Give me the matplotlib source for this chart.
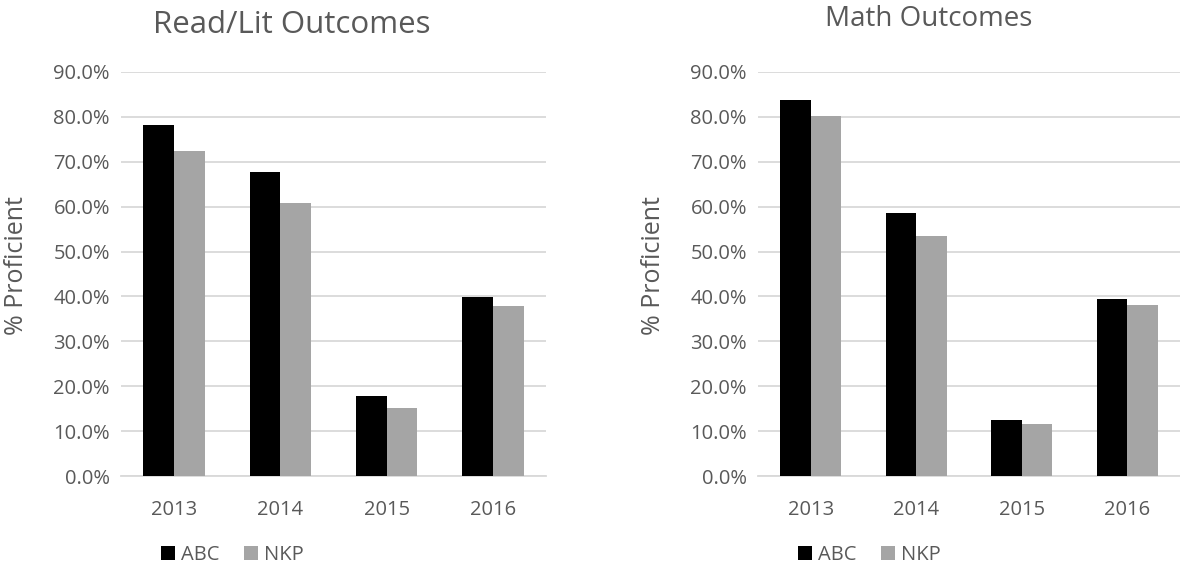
import matplotlib
matplotlib.use("Agg")
import matplotlib.pyplot as plt
import numpy as np
from matplotlib.ticker import FuncFormatter, MultipleLocator

years = ["2013", "2014", "2015", "2016"]
read_abc = [78.3, 67.7, 17.9, 39.9]
read_nkp = [72.3, 60.8, 15.2, 37.9]
math_abc = [83.7, 58.5, 12.4, 39.4]
math_nkp = [80.2, 53.4, 11.5, 38.0]
series_names = ["ABC", "NKP"]
titles = ["Read/Lit Outcomes", "Math Outcomes"]
ylabel = "% Proficient"

plt.rcParams['font.family'] = ['Open Sans', 'DejaVu Sans']
TXT = "#595959"
GRID = "#D9D9D9"
C_ABC = "#000000"
C_NKP = "#A5A5A5"

W, H = 1180, 571
fig = plt.figure(figsize=(W / 100, H / 100), dpi=100)

def px_axes(x0, x1, ytop, ybot):
    return fig.add_axes([x0 / W, (H - ybot) / H, (x1 - x0) / W, (ybot - ytop) / H])

axes = [px_axes(121, 546, 72, 476), px_axes(758, 1180, 72, 476)]
data = [(read_abc, read_nkp), (math_abc, math_nkp)]
title_pos = [(292, 25), (929, 19)]
title_size = [22.5, 20]
ylabel_x = [17, 653]
legend_x = [161, 798]

x = np.arange(len(years))
bw = 0.29
for ax, (a, n), ttl, tp, ts, ylx, lx in zip(axes, data, titles, title_pos, title_size, ylabel_x, legend_x):
    b1 = ax.bar(x - bw / 2, a, width=bw, color=C_ABC, zorder=3, label=series_names[0])
    b2 = ax.bar(x + bw / 2, n, width=bw, color=C_NKP, zorder=3, label=series_names[1])
    ax.set_xlim(-0.5, 3.5)
    ax.set_ylim(0, 90)
    ax.yaxis.set_major_locator(MultipleLocator(10))
    ax.yaxis.set_major_formatter(FuncFormatter(lambda v, p: f"{v:.1f}%"))
    ax.set_xticks(x)
    ax.set_xticklabels(years)
    ax.grid(axis="y", color=GRID, linewidth=1.3, zorder=0)
    for s in ["top", "right", "left"]:
        ax.spines[s].set_visible(False)
    ax.spines["bottom"].set_color(GRID)
    ax.spines["bottom"].set_linewidth(1.3)
    ax.tick_params(axis="both", length=0, labelsize=14.5, labelcolor=TXT)
    ax.tick_params(axis="y", pad=8)
    ax.tick_params(axis="x", pad=17)
    fig.text(tp[0] / W, (H - tp[1]) / H, ttl, ha="center", va="center", fontsize=ts, color=TXT)
    fig.text(ylx / W, (H - 266) / H, ylabel, ha="center", va="center", rotation=90, fontsize=18, color=TXT)
    fig.legend(handles=[b1, b2], labels=series_names, loc="center left",
               bbox_to_anchor=(lx / W, (H - 555) / H), frameon=False, ncol=2,
               fontsize=14.5, labelcolor=TXT, handlelength=0.7, handleheight=0.7,
               handletextpad=0.3, columnspacing=1.2, borderaxespad=0, borderpad=0)

fig.savefig("out.png", dpi=100, facecolor="white")
